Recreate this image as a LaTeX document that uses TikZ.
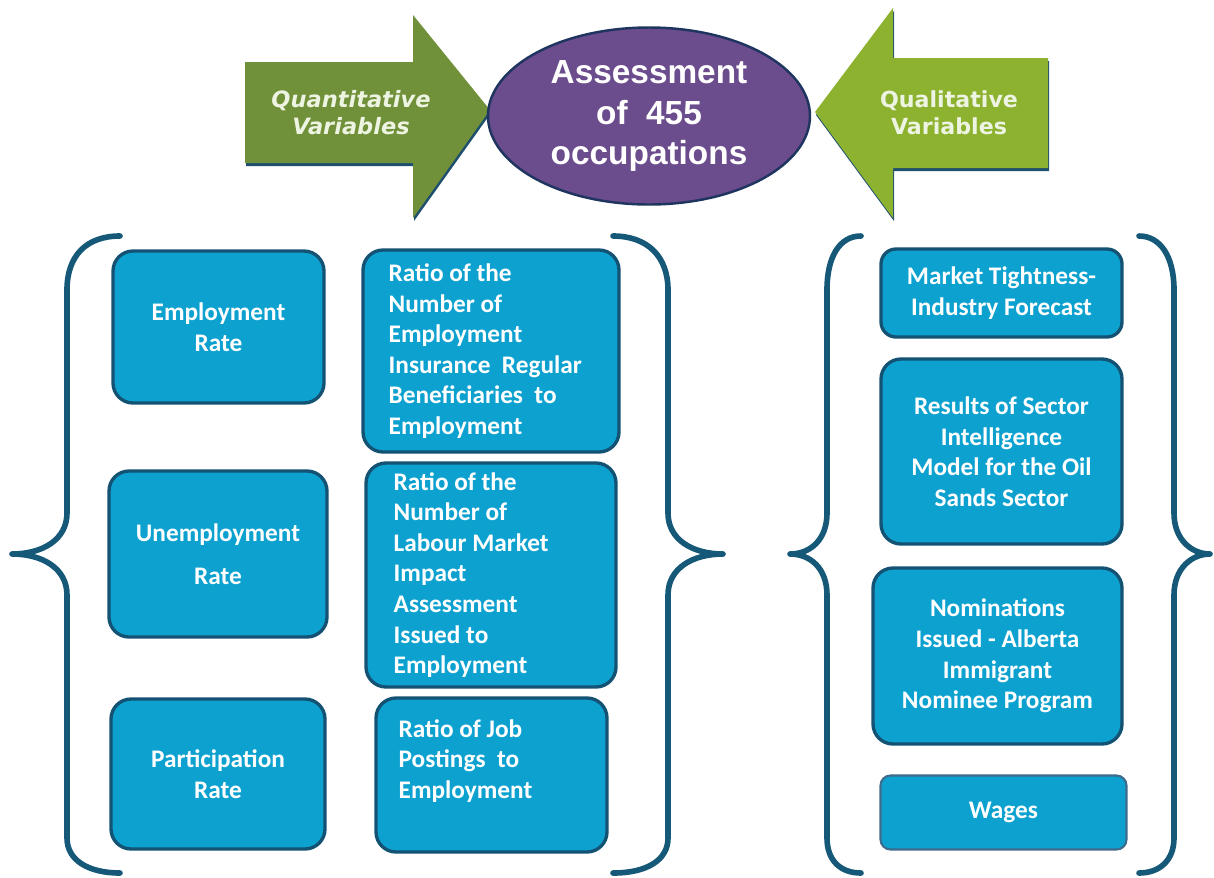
\documentclass[tikz,border=0pt]{standalone}
\usepackage{fontspec}
\setmainfont{Carlito}
\newfontfamily\dvfont{DejaVu Sans}
\newfontfamily\lsfont{Liberation Sans}
\usetikzlibrary{shapes.geometric}
\definecolor{boxfill}{HTML}{0DA1D0}
\definecolor{boxedge}{HTML}{145273}
\definecolor{wagedge}{HTML}{3E6A8C}
\definecolor{bracec}{HTML}{155878}
\definecolor{olivec}{HTML}{71903A}
\definecolor{limec}{HTML}{8DB230}
\definecolor{purp}{HTML}{6B4C8C}
\definecolor{elledge}{HTML}{1F3560}
\definecolor{shadowc}{HTML}{1E4F6E}
\definecolor{arrtxt}{HTML}{EEF4E2}
\begin{document}
\begin{tikzpicture}[x=0.02cm,y=-0.02cm,
  box/.style={draw=boxedge, line width=1.9pt, fill=boxfill, rounded corners=0.4cm,
    text=white, font=\bfseries\fontsize{14.4}{17.4}\selectfont, align=center, inner sep=0pt},
  boxtext/.style={text=white, font=\bfseries\fontsize{14.4}{17.4}\selectfont, align=left, inner sep=0pt, anchor=west},
  bracestyle/.style={draw=bracec, line width=3.2pt, line cap=round, line join=round},
  arrowtext/.style={text=arrtxt, align=center, inner sep=0pt}
]
\useasboundingbox (0,0) rectangle (1214,877);

% ---- arrows ----
\fill[shadowc] (246,65) -- (414,65) -- (414,18) -- (491,113) -- (414,221) -- (414,166) -- (246,166) -- cycle;
\fill[olivec] (245,62) -- (413,62) -- (413,15) -- (490,110) -- (413,218) -- (413,163) -- (245,163) -- cycle;
\fill[shadowc] (816,115) -- (894,11) -- (894,61) -- (1049,61) -- (1049,171) -- (894,171) -- (894,221) -- cycle;
\fill[limec] (815,112) -- (893,8) -- (893,58) -- (1048,58) -- (1048,168) -- (893,168) -- (893,218) -- cycle;
\node[arrowtext, font=\dvfont\bfseries\itshape\fontsize{12.8}{15.3}\selectfont] (quant) at (351,113) {Quantitative\\Variables};
\node[arrowtext, font=\dvfont\bfseries\fontsize{12.6}{15.3}\selectfont] (qual) at (949,113) {Qualitative\\Variables};

% ---- ellipse ----
\node[ellipse, draw=elledge, line width=1.4pt, fill=purp, minimum width=322*0.02cm, minimum height=177*0.02cm,
  text=white, align=center, inner sep=0pt, font=\lsfont\bfseries\fontsize{19}{23.3}\selectfont] (assess) at (649,116)
  {Assessment\\of\ \ 455\\occupations};

% ---- braces ----
\draw[bracestyle] (120,236) .. controls (86,236) and (67,256) .. (67,290) -- (67,513)
  .. controls (67,540) and (42,554) .. (12,554) .. controls (42,554) and (67,568) .. (67,595)
  -- (67,838) .. controls (67,860) and (88,873) .. (120,873);
\draw[bracestyle] (613,236) .. controls (647,236) and (668,256) .. (668,290) -- (668,513)
  .. controls (668,540) and (693,554) .. (723,554) .. controls (693,554) and (668,568) .. (668,595)
  -- (668,838) .. controls (668,860) and (647,873) .. (613,873);
\draw[bracestyle] (861,236) .. controls (840,236) and (827,256) .. (827,290) -- (827,513)
  .. controls (827,540) and (810,554) .. (790,554) .. controls (810,554) and (827,568) .. (827,595)
  -- (827,838) .. controls (827,860) and (840,873) .. (861,873);
\draw[bracestyle] (1139,236) .. controls (1160,236) and (1174,256) .. (1174,290) -- (1174,513)
  .. controls (1174,540) and (1192,554) .. (1210,554) .. controls (1192,554) and (1174,568) .. (1174,595)
  -- (1174,838) .. controls (1174,860) and (1160,873) .. (1139,873);

% ---- left column ----
\node[box, minimum width=211*0.02cm, minimum height=152*0.02cm] (emp) at (218.5,327) {Employment\\Rate};
\node[box, minimum width=218*0.02cm, minimum height=166*0.02cm] (unemp) at (218,554) {Unemployment\\[7pt]Rate};
\node[box, minimum width=214*0.02cm, minimum height=150*0.02cm] (part) at (218,774) {Participation\\Rate};

% ---- middle column ----
\node[box, minimum width=256*0.02cm, minimum height=202*0.02cm] (r1) at (491,351) {};
\node[boxtext] at ([xshift=27*0.02cm]r1.west) {Ratio of the\\Number of\\Employment\\Insurance\ \ Regular\\Beneficiaries\ \ to\\Employment};
\node[box, minimum width=250*0.02cm, minimum height=224*0.02cm] (r2) at (491,575) {};
\node[boxtext] at ([xshift=29*0.02cm]r2.west) {Ratio of the\\Number of\\Labour Market\\Impact\\Assessment\\Issued to\\Employment};
\node[box, minimum width=231*0.02cm, minimum height=154*0.02cm] (r3) at (491.5,775) {};
\node[boxtext] at ([xshift=24*0.02cm, yshift=14*0.02cm]r3.west) {Ratio of Job\\Postings\ \ to\\Employment};

% ---- right column ----
\node[box, rounded corners=0.3cm, minimum width=241*0.02cm, minimum height=88*0.02cm] (mkt) at (1001.5,293) {Market Tightness-\\Industry Forecast};
\node[box, minimum width=241*0.02cm, minimum height=185*0.02cm] (res) at (1001.5,451.5) {Results of Sector\\Intelligence\\Model for the Oil\\Sands Sector};
\node[box, minimum width=249*0.02cm, minimum height=176*0.02cm] (nom) at (997.5,656) {Nominations\\Issued - Alberta\\Immigrant\\Nominee Program};
\node[box, draw=wagedge, line width=1.2pt, rounded corners=0.2cm, minimum width=246*0.02cm, minimum height=74*0.02cm] (wag) at (1003.5,812.5) {Wages};
\end{tikzpicture}
\end{document}
